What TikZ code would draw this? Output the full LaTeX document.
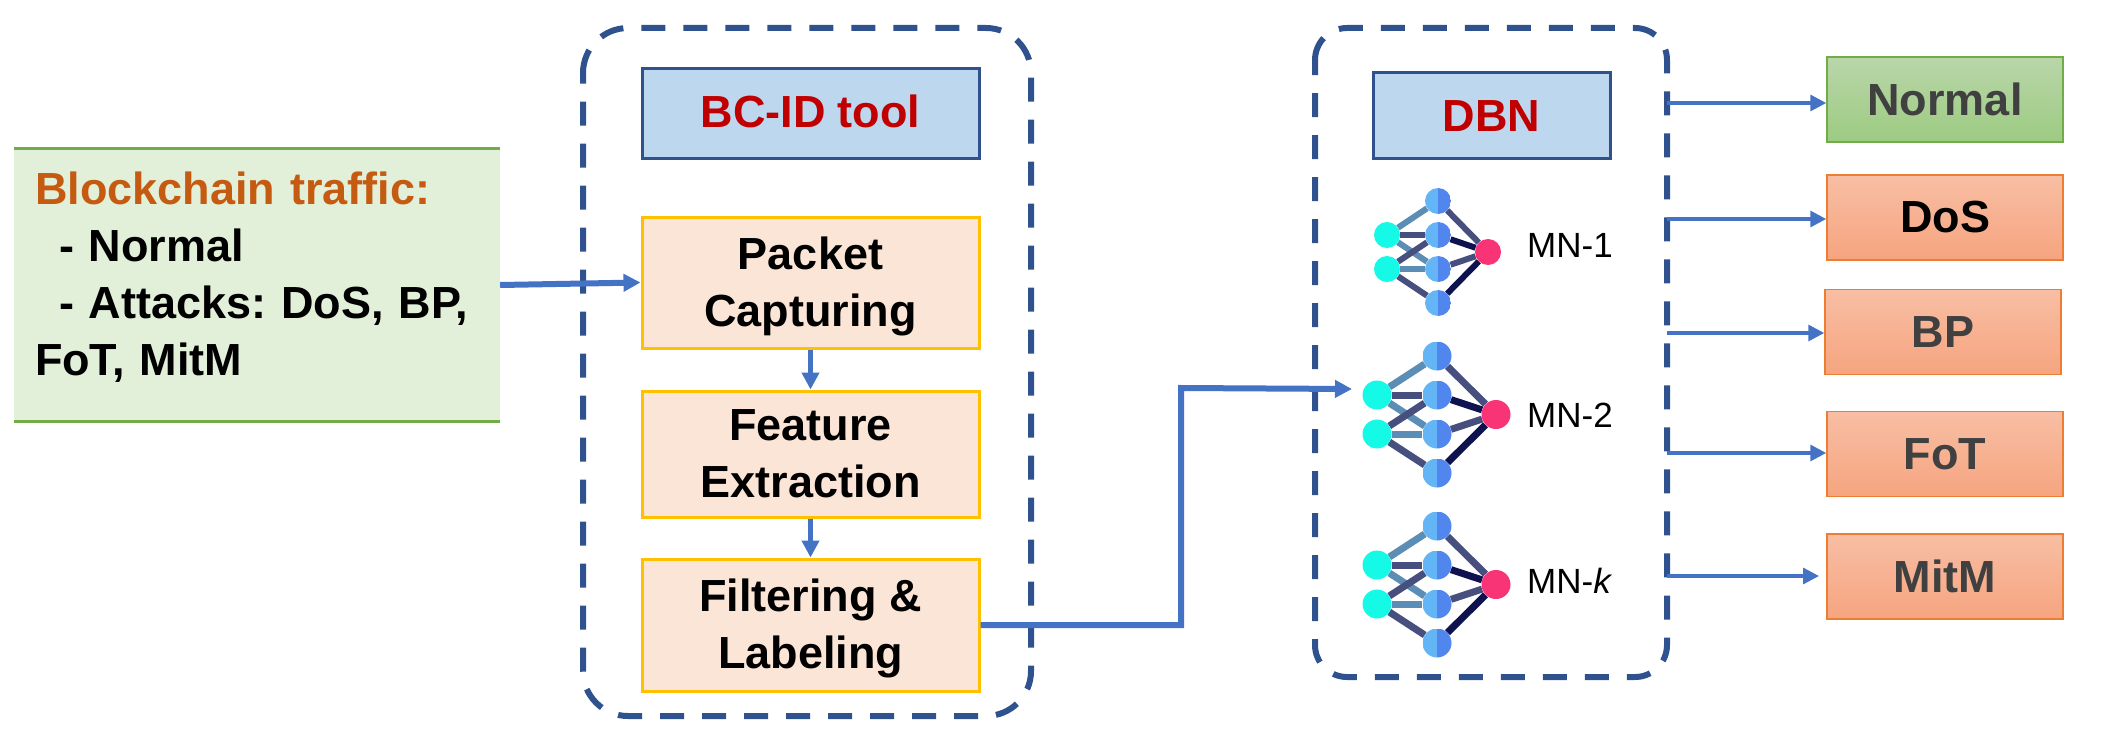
\documentclass[tikz,border=0pt]{standalone}
\usepackage{fontspec}
\setmainfont{Liberation Sans}
\frenchspacing
\usetikzlibrary{arrows.meta,backgrounds,calc}
\definecolor{framec}{HTML}{2F528F}
\definecolor{arrowc}{HTML}{4472C4}
\definecolor{titlefill}{HTML}{BDD7EE}
\definecolor{redtxt}{HTML}{C00000}
\definecolor{procfill}{HTML}{FBE5D6}
\definecolor{procline}{HTML}{FFC000}
\definecolor{greenfill}{HTML}{E2F0D9}
\definecolor{greenline}{HTML}{70AD47}
\definecolor{orangetxt}{HTML}{C55A11}
\definecolor{grayt}{HTML}{404040}
\definecolor{ntop}{HTML}{B9D6A9}
\definecolor{nbot}{HTML}{9DCB82}
\definecolor{otop}{HTML}{F8BEA4}
\definecolor{obot}{HTML}{F6A47F}
\definecolor{oline}{HTML}{ED7D31}
\definecolor{ncyan}{HTML}{14FAE6}
\definecolor{nleft}{HTML}{64B5F6}
\definecolor{nright}{HTML}{5086EE}
\definecolor{npink}{HTML}{F83376}
\definecolor{elight}{HTML}{5B8DB5}
\definecolor{edark}{HTML}{474F7E}
\definecolor{enavy}{HTML}{0E134F}
\tikzset{
  x=1pt,y=-1pt,
  bigtext/.style={font=\fontsize{45}{57}\selectfont\bfseries},
  dashframe/.style={draw=framec,line width=6pt,dash pattern=on 24pt off 18pt},
  titlebox/.style={draw=framec,line width=3pt,fill=titlefill,text=redtxt,bigtext,inner sep=0pt},
  procbox/.style={draw=procline,line width=3pt,fill=procfill,text=black,bigtext,align=center,inner sep=0pt,minimum width=337pt},
  outgreen/.style={draw=greenline,line width=1.5pt,top color=ntop,bottom color=nbot,bigtext,inner sep=0pt,minimum width=236pt,minimum height=85pt},
  outorange/.style={draw=oline,line width=1.5pt,top color=otop,bottom color=obot,bigtext,inner sep=0pt,minimum width=236pt,minimum height=85pt},
  bigarrow/.style={draw=arrowc,line width=5pt,-{Triangle[length=17pt,width=17pt]}},
  widearrow/.style={draw=arrowc,line width=6pt,-{Triangle[length=17pt,width=17pt]}},
  outarrow/.style={draw=arrowc,line width=3.3pt,-{Triangle[length=16pt,width=16pt]}},
  netlabel/.style={font=\fontsize{35}{40}\selectfont,anchor=base west,inner sep=0pt},
}
% prefix, centre x, centre y, dx, dy, radius, edge width
\newcommand{\nnet}[7]{%
  \tikzset{netnode/.style={circle,inner sep=0pt,minimum size=#6*2 pt}}
  \tikzset{halfnode/.style={netnode,path picture={
    \fill[nleft] (path picture bounding box.south west) rectangle (path picture bounding box.north);
    \fill[nright] (path picture bounding box.south) rectangle (path picture bounding box.north east);}}}
  \tikzset{netedge/.style={line width=#7 pt}}
  \node[netnode,fill=ncyan] (#1c1) at ({#2-#4},{#3-#5}) {};
  \node[netnode,fill=ncyan] (#1c2) at ({#2-#4},{#3+#5}) {};
  \node[halfnode] (#1b1) at (#2,{#3-3*#5}) {};
  \node[halfnode] (#1b2) at (#2,{#3-#5}) {};
  \node[halfnode] (#1b3) at (#2,{#3+#5}) {};
  \node[halfnode] (#1b4) at (#2,{#3+3*#5}) {};
  \node[netnode,fill=npink] (#1p) at ({#2+#4-1},#3) {};
  \begin{scope}[on background layer]
    \draw[netedge,elight] (#1c1) -- (#1b3);
    \draw[netedge,edark] (#1c1) -- (#1b2);
    \draw[netedge,edark] (#1c2) -- (#1b2);
    \draw[netedge,elight] (#1c1) -- (#1b1);
    \draw[netedge,elight] (#1c2) -- (#1b3);
    \draw[netedge,edark] (#1c2) -- (#1b4);
    \draw[netedge,edark] (#1b1) -- (#1p);
    \draw[netedge,edark] (#1b3) -- (#1p);
    \draw[netedge,enavy] (#1b2) -- (#1p);
    \draw[netedge,enavy] (#1b4) -- (#1p);
  \end{scope}
}
\begin{document}
\begin{tikzpicture}
\useasboundingbox (0,0) rectangle (2107,733);
% dashed frames, drawn clockwise from the top of the left side
\draw[dashframe,rounded corners=45pt] (583,73) -- (583,28) -- (1031,28) -- (1031,716) -- (583,716) -- (583,73);
\draw[dashframe,rounded corners=32pt] (1315,60) -- (1315,28) -- (1667,28) -- (1667,677) -- (1315,677) -- (1315,60);
% input
\node[fill=greenfill,inner sep=0pt,minimum width=486pt,minimum height=272pt,text width=444pt,align=left,bigtext] (g) at (257,285)
 {\textcolor{orangetxt}{Blockchain traffic:}\\\hspace*{24pt}- Normal\\\hspace*{24pt}- Attacks: DoS, BP,\\FoT, MitM\rule[-22pt]{0pt}{22pt}};
\draw[greenline,line width=3pt] (g.north west) -- (g.north east);
\draw[greenline,line width=3pt] (g.south west) -- (g.south east);
% BC-ID column
\node[titlebox,minimum width=337pt,minimum height=90pt] (bc) at (810.5,113.5) {\rule[-4pt]{0pt}{4pt}BC-ID tool};
\node[procbox,minimum height=131pt] (pk) at (810.5,282.5) {\rule{0pt}{40pt}Packet\\Capturing};
\node[procbox,minimum height=126pt] (fe) at (810.5,454) {Feature\\Extraction};
\node[procbox,minimum height=132pt] (fl) at (810.5,625) {\rule{0pt}{40pt}Filtering \&\\Labeling};
% DBN column
\node[titlebox,minimum width=237pt,minimum height=86pt] (dbn) at (1491.5,116) {DBN};
\nnet{a}{1438}{252}{51}{17}{13}{6}
\nnet{b}{1437}{414.5}{60}{19.5}{14.5}{7}
\nnet{c}{1437}{584.5}{60}{19.5}{14.5}{7}
\node[netlabel] (la) at (1527,257) {MN-1};
\node[netlabel] (lb) at (1527,427) {MN-2};
\node[netlabel] (lc) at (1527,593) {MN-\textit{k}};
% outputs
\node[outgreen] (nm) at (1945,99.5) {\textcolor{grayt}{Normal}};
\node[outorange] (dos) at (1945,217.5) {\textcolor{black}{DoS}};
\node[outorange] (bp) at (1943,332) {\textcolor{grayt}{BP}};
\node[outorange] (fot) at (1945,454) {\textcolor{grayt}{FoT}};
\node[outorange] (mitm) at (1945,576.5) {\textcolor{grayt}{MitM}};
% connectors
\draw[widearrow] (g.east) -- (pk.west);
\draw[bigarrow] (pk.south) -- (fe.north);
\draw[bigarrow] (fe.south) -- (fl.north);
\coordinate (bend) at (1181,388);
\coordinate (netin) at (1352,389);
\draw[widearrow] (fl.east) -| (bend) -- (netin);
\coordinate (o1) at (1667,103);
\coordinate (o2) at (1667,219);
\coordinate (o3) at (1667,333);
\coordinate (o4) at (1667,453);
\coordinate (o5) at (1667,576);
\coordinate (o5e) at (1819,576);
\draw[outarrow] (o1) -- (o1 -| nm.west);
\draw[outarrow] (o2) -- (o2 -| dos.west);
\draw[outarrow] (o3) -- (o3 -| bp.west);
\draw[outarrow] (o4) -- (o4 -| fot.west);
\draw[outarrow] (o5) -- (o5e);
\end{tikzpicture}
\end{document}
